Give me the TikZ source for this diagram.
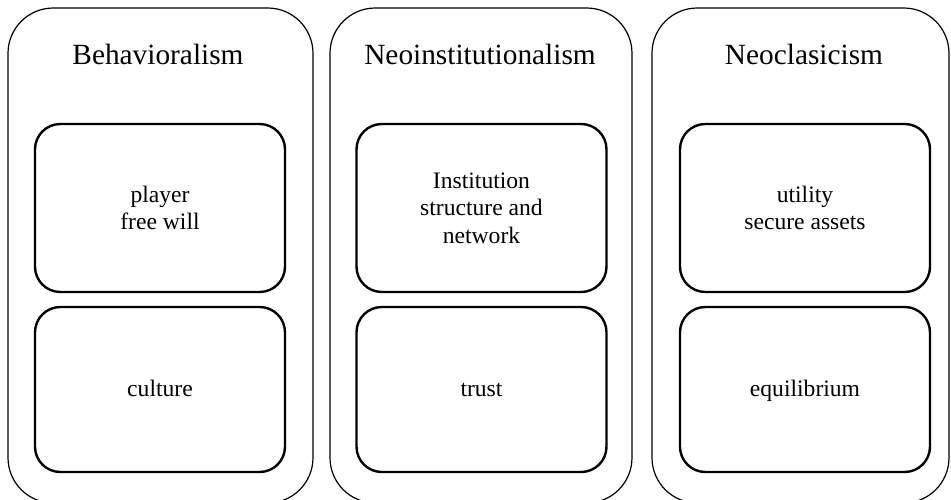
\documentclass[tikz,border=0pt]{standalone}
\usepackage{fontspec}
\setmainfont{Liberation Serif}
\usetikzlibrary{positioning}

\tikzset{
  school/.style={draw, line width=0.9pt, rounded corners=34pt, inner sep=0pt,
                 minimum height=371.25pt},
  topic/.style={draw, line width=1.8pt, rounded corners=19pt, inner sep=0pt,
                align=center, minimum width=187.5pt,
                font=\fontsize{17.7}{20.6}\selectfont},
  lowtopic/.style={topic, minimum height=123.75pt, text height=1em, text depth=0pt},
  heading/.style={anchor=base, inner sep=0pt, font=\fontsize{22}{26}\selectfont}
}

\begin{document}
\begin{tikzpicture}[x=0.75pt, y=-0.75pt]
  \useasboundingbox (0,0) rectangle (951,500);
  % Behavioralism
  \node[school, minimum width=228.75pt] (behav) at (160.5,255.5) {};
  \node[heading] (behavT) at (158,64) {Behavioralism};
  \node[topic, minimum height=126pt] (player) at (160,208) {player\\free will};
  \node[lowtopic] (culture) at (160,389.5) {culture};
  % Neoinstitutionalism
  \node[school, minimum width=226.5pt] (neoinst) at (481,255.5) {};
  \node[heading] (neoinstT) at (480,64) {Neoinstitutionalism};
  \node[topic, minimum height=126pt] (institution) at (481.5,208) {Institution\\structure and\\network};
  \node[lowtopic] (trust) at (481.5,389.5) {trust};
  % Neoclasicism
  \node[school, minimum width=222.75pt] (neoclas) at (800.5,255.5) {};
  \node[heading] (neoclasT) at (804,64) {Neoclasicism};
  \node[topic, minimum height=126pt] (utility) at (805,208) {utility\\secure assets};
  \node[lowtopic] (equil) at (805,389.5) {equilibrium};
\end{tikzpicture}
\end{document}
